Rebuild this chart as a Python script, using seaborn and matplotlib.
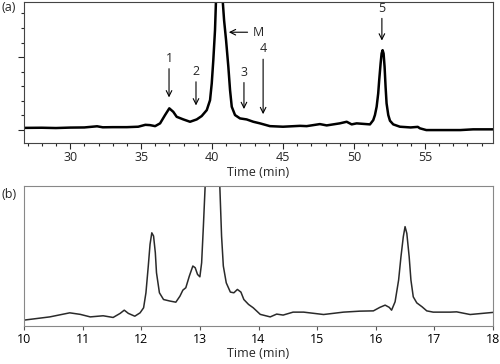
import matplotlib
matplotlib.use('Agg')
import matplotlib.pyplot as plt
import seaborn as sb
import pandas as pd

sb.set_style("white")
plt.rcParams['font.family'] = ['Open Sans', 'DejaVu Sans']

# (a) chromatogram
time_a = [26.8, 28.0, 29.0, 30.0, 31.0, 31.9, 32.3, 33.0, 34.0, 34.8, 35.3, 35.63, 35.99,
          36.34, 36.69, 36.99, 37.27, 37.51, 37.98, 38.45, 38.92, 39.27, 39.63, 39.86,
          39.98, 40.09, 40.21, 40.28, 40.38, 40.5, 40.62, 40.75, 40.85, 40.99, 41.15,
          41.27, 41.39, 41.62, 41.97, 42.44, 42.91, 43.38, 44.08,
          45.0, 46.2, 46.67, 47.6, 48.08, 49.0, 49.49, 49.84, 50.19, 51.13, 51.36,
          51.48, 51.6, 51.71, 51.78, 51.88, 51.95, 52.02, 52.09, 52.16, 52.23, 52.3,
          52.42, 52.54, 52.77, 53.24, 54.0, 54.5, 54.65, 55.1, 57.5, 58.4, 59.8]
signal_a = [1.5, 1.6, 1.4, 1.7, 1.8, 2.6, 1.9, 2.0, 2.0, 2.3, 3.6, 3.4, 2.7,
            4.6, 10.3, 14.9, 12.5, 9.1, 7.3, 5.7, 7.3, 9.6, 13.7, 20.5,
            32.0, 47.9, 68.5, 89.0, 104.0, 108.0, 104.0, 89.0, 75.3, 61.6, 43.4,
            27.4, 16.0, 10.3, 8.0, 7.3, 5.7, 4.6, 2.7,
            2.3, 2.9, 2.7, 4.1, 3.2, 4.6, 5.7, 3.9, 4.6, 3.9, 6.8,
            10.3, 16.0, 25.1, 34.2, 45.7, 52.5, 54.8, 52.5, 43.4, 29.7, 18.3,
            10.3, 6.4, 3.9, 2.3, 1.8, 2.2, 1.2, 0.0, 0.0, 0.5, 0.5]

# (b) chromatogram
time_b = [10.0, 10.44, 10.78, 10.96, 11.13, 11.35, 11.52, 11.64, 11.71, 11.78, 11.89,
          11.98, 12.04, 12.08, 12.12, 12.15, 12.18, 12.21, 12.24, 12.26, 12.31, 12.38,
          12.49, 12.59, 12.66, 12.71, 12.76, 12.82, 12.88, 12.92, 12.96, 13.0, 13.03,
          13.06, 13.09, 13.15, 13.22, 13.29, 13.34, 13.37, 13.4, 13.45, 13.52, 13.58,
          13.64, 13.7, 13.75, 13.83, 13.91, 14.03, 14.2, 14.31, 14.42, 14.59, 14.77,
          15.11, 15.45, 15.73, 15.96, 16.07, 16.16, 16.23, 16.27, 16.33, 16.39, 16.43,
          16.47, 16.5, 16.53, 16.57, 16.6, 16.64, 16.7, 16.79, 16.87, 16.98, 17.27,
          17.38, 17.61, 18.0]
signal_b = [4.3, 6.6, 9.5, 8.4, 6.6, 7.4, 6.2, 9.1, 11.4, 9.1, 7.1,
            9.5, 13.1, 23.8, 42.9, 58.4, 66.6, 64.3, 52.4, 38.1, 23.8, 19.0,
            17.9, 17.1, 21.4, 25.7, 27.4, 35.7, 42.9, 41.7, 36.9, 35.2, 45.2,
            71.4, 100.0, 125.0, 135.0, 125.0, 100.0, 64.3, 42.9, 30.9, 24.3, 23.8,
            26.2, 24.3, 19.0, 15.5, 13.1, 8.4, 6.6, 8.6, 7.9, 10.0, 10.0,
            8.3, 10.0, 10.7, 10.9, 13.4, 15.0, 13.4, 11.4, 17.4, 32.9, 49.5,
            63.8, 71.0, 66.2, 49.5, 32.9, 20.9, 16.6, 13.8, 10.9, 10.0, 10.0,
            10.2, 8.3, 9.8]

# peak markers in (a): label, x, label centre y, arrow tail y, arrow head y
peak_labels = ['1', '2', '3', '4', '5']
peak_x = [36.97, 38.87, 42.25, 43.6, 51.97]
label_y = [49.3, 40.4, 39.7, 56.2, 83.4]
tail_y = [44.0, 35.0, 34.5, 50.5, 78.5]
head_y = [20.5, 15.0, 12.5, 9.0, 59.5]

df_a = pd.DataFrame({'t': time_a, 's': signal_a})
df_b = pd.DataFrame({'t': time_b, 's': signal_b})

fig = plt.figure(figsize=(5, 3.64), dpi=100)
ax1 = fig.add_axes([0.048, 0.607, 0.938, 0.387])
ax2 = fig.add_axes([0.048, 0.104, 0.938, 0.385])

sb.lineplot(data=df_a, x='t', y='s', ax=ax1, color='black', lw=1.8,
            estimator=None, sort=False)
ax1.set_xlim(26.75, 59.8)
ax1.set_ylim(-8.9, 87.7)
ax1.set_xticks([30, 35, 40, 45, 50, 55])
ax1.set_xticks(range(27, 60), minor=True)
ax1.set_yticks([0, 50])
ax1.set_yticks([10, 20, 30, 40, 60, 70, 80], minor=True)
ax1.set_yticklabels([])
ax1.tick_params(axis='both', which='major', direction='out', length=4, width=0.8,
                labelsize=9, bottom=True, left=True, pad=2)
ax1.tick_params(axis='both', which='minor', direction='out', length=2, width=0.8,
                bottom=True, left=True)
ax1.set_xlabel('Time (min)', fontsize=9, labelpad=1)
ax1.set_ylabel('')
for sp in ax1.spines.values():
    sp.set_color('#444444')
    sp.set_linewidth(0.8)

for lab, x, ly, ty, hy in zip(peak_labels, peak_x, label_y, tail_y, head_y):
    ax1.text(x, ly, lab, ha='center', va='center', fontsize=9)
    ax1.annotate('', xy=(x, hy), xytext=(x, ty),
                 arrowprops=dict(arrowstyle='->', color='black', lw=0.8))
ax1.annotate('', xy=(40.99, 67.1), xytext=(42.7, 67.1),
             arrowprops=dict(arrowstyle='->', color='black', lw=0.8))
ax1.text(42.85, 67.1, 'M', ha='left', va='center', fontsize=9)

sb.lineplot(data=df_b, x='t', y='s', ax=ax2, color='#2a2a2a', lw=1.1,
            estimator=None, sort=False)
ax2.set_xlim(10, 18)
ax2.set_ylim(0, 100)
ax2.set_xticks(range(10, 19))
ax2.set_yticks([])
ax2.tick_params(axis='x', direction='out', length=3, width=0.8, labelsize=9,
                bottom=True, pad=2, colors='#555555', labelcolor='black')
ax2.set_xlabel('Time (min)', fontsize=9, labelpad=1)
ax2.set_ylabel('')
for sp in ax2.spines.values():
    sp.set_color('#888888')
    sp.set_linewidth(0.8)

fig.text(0.002, 0.98, '(a)', fontsize=9, va='center')
fig.text(0.002, 0.465, '(b)', fontsize=9, va='center')

plt.savefig('out.png', dpi=100)
